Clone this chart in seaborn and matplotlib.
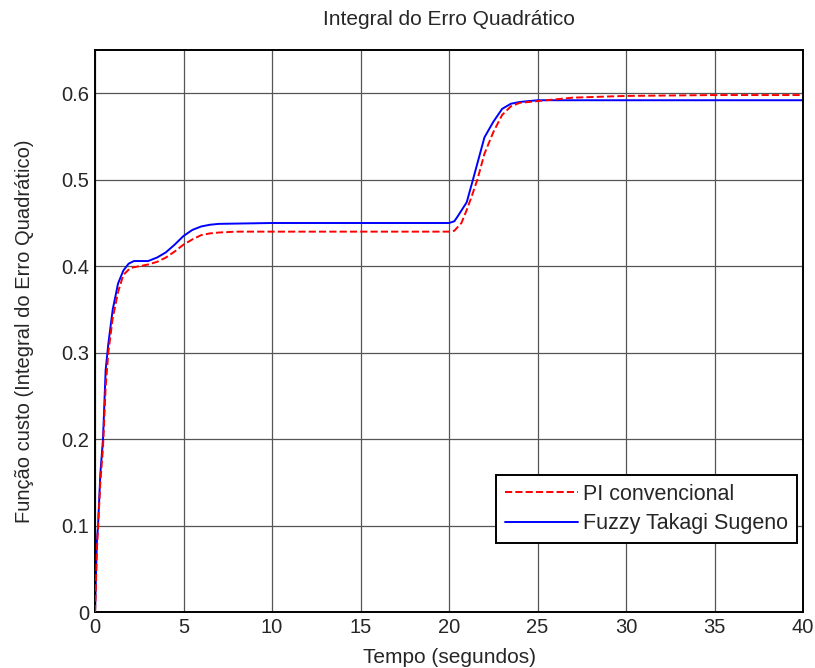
import numpy as np
import pandas as pd
import matplotlib
matplotlib.use("Agg")
import matplotlib.pyplot as plt
import seaborn as sns

# PI convencional (red, dashed)
t_pi = [0, 0.05, 0.1, 0.2, 0.3, 0.45, 0.6, 0.75, 1.0, 1.3, 1.6, 2.0, 2.5, 3.0, 3.5, 4.0, 4.5,
        5.0, 5.5, 6.0, 6.5, 7.0, 8.0, 10, 15, 20, 20.3, 20.7, 21.0, 21.3, 21.6, 22.0, 22.5,
        23.0, 23.5, 24.0, 25.0, 27.0, 30.0, 35.0, 40.0]
y_pi = [0, 0.03, 0.07, 0.11, 0.15, 0.19, 0.26, 0.30, 0.34, 0.37, 0.39, 0.398, 0.400, 0.402,
        0.405, 0.410, 0.417, 0.425, 0.431, 0.436, 0.438, 0.439, 0.440, 0.440, 0.440, 0.440,
        0.441, 0.450, 0.465, 0.482, 0.500, 0.530, 0.555, 0.575, 0.585, 0.589, 0.591, 0.595,
        0.597, 0.598, 0.598]

# Fuzzy Takagi Sugeno (blue, solid)
t_fz = [0, 0.05, 0.1, 0.17, 0.3, 0.45, 0.6, 0.75, 1.0, 1.3, 1.6, 1.9, 2.2, 2.6, 3.0, 3.5,
        4.0, 4.5, 5.0, 5.5, 6.0, 6.5, 7.0, 10, 15, 20, 20.3, 20.5, 21.0, 21.35, 22.0, 22.5,
        23.0, 23.5, 24.0, 25.0, 30.0, 40.0]
y_fz = [0, 0.04, 0.08, 0.10, 0.16, 0.20, 0.28, 0.31, 0.35, 0.38, 0.395, 0.403, 0.406, 0.406,
        0.406, 0.410, 0.416, 0.425, 0.435, 0.442, 0.446, 0.448, 0.449, 0.450, 0.450, 0.450,
        0.452, 0.458, 0.474, 0.500, 0.549, 0.567, 0.582, 0.588, 0.590, 0.592, 0.592, 0.592]

x_ticks = [0, 5, 10, 15, 20, 25, 30, 35, 40]
y_ticks = [0, 0.1, 0.2, 0.3, 0.4, 0.5, 0.6]

sns.set_style("white")
plt.rcParams["font.family"] = ["Liberation Sans", "DejaVu Sans"]
FS = 14.5

df_pi = pd.DataFrame({"t": t_pi, "J": y_pi})
df_fz = pd.DataFrame({"t": t_fz, "J": y_fz})

fig = plt.figure(figsize=(8.15, 6.68), dpi=100)
ax = fig.add_axes([0.1166, 0.0838, 0.8687, 0.8412])

sns.lineplot(data=df_pi, x="t", y="J", ax=ax, color="red", linestyle="--",
             linewidth=1.4, label="PI convencional", zorder=3)
sns.lineplot(data=df_fz, x="t", y="J", ax=ax, color="blue", linestyle="-",
             linewidth=1.4, label="Fuzzy Takagi Sugeno", zorder=2)

ax.set_xlim(0, 40)
ax.set_ylim(0, 0.65)
ax.set_xticks(x_ticks)
ax.set_yticks(y_ticks)
ax.set_xticklabels([str(v) for v in x_ticks])
ax.set_yticklabels(["0"] + [f"{v:.1f}" for v in y_ticks[1:]])
ax.grid(True, color="#555555", linewidth=0.9)
ax.tick_params(direction="in", length=5, labelsize=FS, color="black", width=1, pad=4)
for s in ax.spines.values():
    s.set_color("black")
    s.set_linewidth(1.4)

ax.set_title("Integral do Erro Quadrático", fontsize=15, pad=18)
ax.set_xlabel("Tempo (segundos)", fontsize=15, labelpad=8)
ax.set_ylabel("Função custo (Integral do Erro Quadrático)", fontsize=FS, labelpad=20)

leg = ax.legend(loc="lower right", bbox_to_anchor=(0.9915, 0.1228), fontsize=15.5,
                fancybox=False, framealpha=1, edgecolor="black", handlelength=3.4,
                handletextpad=0.25, borderpad=0.4, labelspacing=0.4, borderaxespad=0)
leg.get_frame().set_linewidth(1.4)

fig.savefig("out.png", dpi=100)
plt.close(fig)
